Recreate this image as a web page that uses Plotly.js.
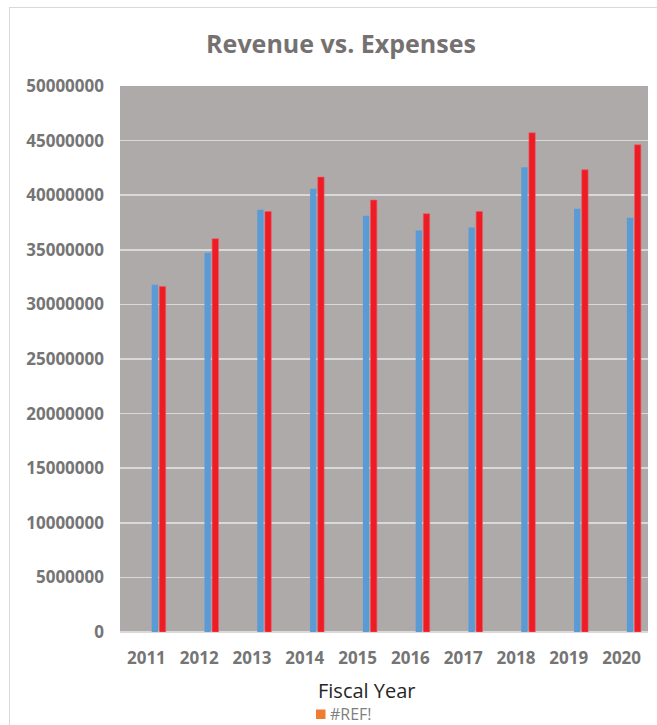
<!DOCTYPE html>
<html>
<head>
<meta charset="utf-8">
<script src="https://cdn.plot.ly/plotly-3.0.1.min.js"></script>
<style>
  html, body { margin: 0; padding: 0; background: #ffffff; }
  #wrap { position: relative; width: 657px; height: 725px; overflow: hidden; }
  #frame { position: absolute; left: 9px; top: 7px; width: 700px; height: 760px; border: 1px solid #d9d9d9; box-sizing: border-box; }
  #chart { position: absolute; left: 0; top: 0; width: 657px; height: 725px; }
</style>
</head>
<body>
<div id="wrap">
  <div id="frame"></div>
  <div id="chart"></div>
</div>
<script>
const years = ["2011", "2012", "2013", "2014", "2015", "2016", "2017", "2018", "2019", "2020"];
const revenue = [31800000, 34730000, 38660000, 40590000, 38120000, 36770000, 37050000, 42570000, 38760000, 37930000];
const expenses = [31650000, 36010000, 38510000, 41660000, 39550000, 38300000, 38510000, 45710000, 42330000, 44610000];
const legendLabel = "#REF!";
const yTicks = [0, 5000000, 10000000, 15000000, 20000000, 25000000, 30000000, 35000000, 40000000, 45000000, 50000000];

const traces = [
  {
    type: 'bar', x: years, y: revenue, name: 'Revenue', showlegend: false,
    marker: { color: '#5b9bd5' }, width: 0.12, offset: 0.10, hoverinfo: 'x+y'
  },
  {
    type: 'bar', x: years, y: expenses, name: 'Expenses', showlegend: false,
    marker: { color: '#ee1c25', line: { color: '#f0585e', width: 0.6 } }, width: 0.12, offset: 0.245, hoverinfo: 'x+y'
  }
];

const layout = {
  width: 657, height: 725,
  margin: { l: 120, r: 9, t: 86, b: 93, autoexpand: false },
  paper_bgcolor: 'rgba(0,0,0,0)',
  plot_bgcolor: '#aeaaaa',
  barmode: 'overlay',
  showlegend: false,
  font: { family: 'Open Sans, sans-serif', color: '#757575' },
  title: {
    text: '<b>Revenue vs. Expenses</b>',
    font: { family: 'Open Sans, sans-serif', size: 25, color: '#767171' },
    x: 341 / 657, xanchor: 'center', xref: 'container',
    y: 1 - 44 / 725, yanchor: 'middle', yref: 'container'
  },
  xaxis: {
    type: 'category',
    showgrid: false, zeroline: false,
    showline: false, ticks: '',
    tickfont: { family: 'Open Sans, sans-serif', size: 17, color: '#757575', weight: 'bold' },
    ticklabelstandoff: 14
  },
  yaxis: {
    range: [0, 50000000],
    tickvals: yTicks,
    ticktext: yTicks.map(v => String(v)),
    showgrid: true, gridcolor: '#d9d9d9', gridwidth: 1.5,
    zeroline: true, zerolinecolor: '#d9d9d9', zerolinewidth: 1.5,
    showline: false, ticks: '',
    tickfont: { family: 'Open Sans, sans-serif', size: 17, color: '#757575', weight: 'bold' },
    ticklabelstandoff: 15
  },
  shapes: [
    {
      type: 'rect', xref: 'paper', yref: 'paper',
      x0: (316 - 120) / 528, x1: (325.5 - 120) / 528,
      y0: (632 - 719) / 546, y1: (632 - 709.5) / 546,
      fillcolor: '#ed7d31', line: { width: 0 }
    }
  ],
  annotations: [
    {
      text: 'Fiscal Year', xref: 'paper', yref: 'paper', x: (367 - 120) / 528, y: (632 - 690) / 546,
      xanchor: 'center', yanchor: 'middle', showarrow: false,
      font: { family: 'Open Sans, sans-serif', size: 20, color: '#262626' }
    },
    {
      text: legendLabel, xref: 'paper', yref: 'paper', x: (328 - 120) / 528, y: (632 - 714) / 546,
      xanchor: 'left', yanchor: 'middle', showarrow: false,
      font: { family: 'Open Sans, sans-serif', size: 16, color: '#7f7f7f' }
    }
  ]
};

Plotly.newPlot('chart', traces, layout, { displayModeBar: false, staticPlot: true });
</script>
</body>
</html>
